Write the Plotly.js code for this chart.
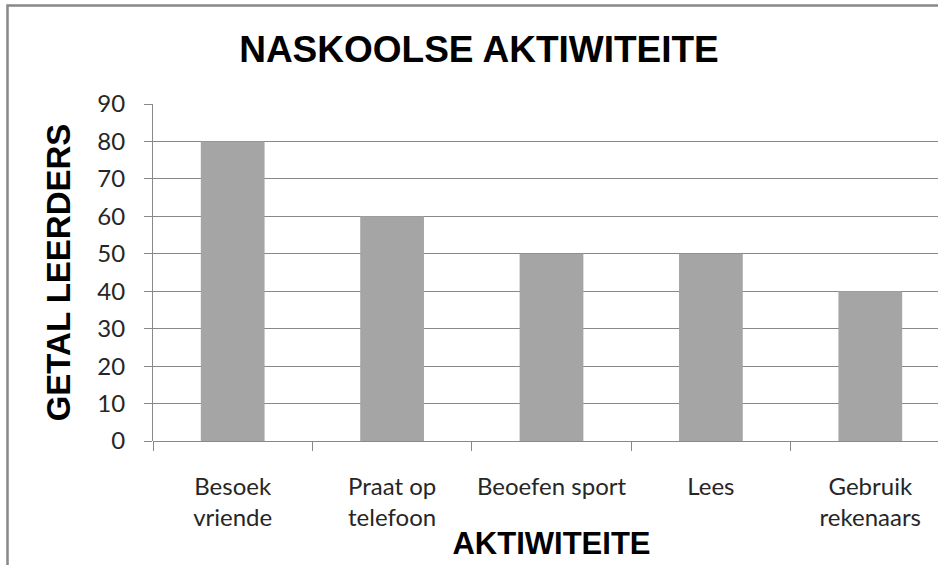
<!DOCTYPE html>
<html>
<head>
<meta charset="utf-8">
<script src="https://cdn.plot.ly/plotly-3.0.1.min.js"></script>
<style>
html, body { margin: 0; padding: 0; overflow: hidden; background: #fff; }
#chart { width: 958px; height: 565px; }
</style>
</head>
<body>
<div id="chart"></div>
<script>
const categories = ["Besoek<br>vriende", "Praat op<br>telefoon", "Beoefen sport", "Lees", "Gebruik<br>rekenaars"];
const learners = [80, 60, 50, 50, 40];
const yTicks = [0, 10, 20, 30, 40, 50, 60, 70, 80, 90];

const gridColor = "#888888";
const tickFont = { family: "Lato, 'Noto Sans', sans-serif", size: 24, color: "#262626" };
const boldFont = "'Liberation Sans', Arial, sans-serif";

const trace = {
  type: "bar",
  x: categories,
  y: learners,
  width: 0.4,
  marker: { color: "#a5a5a5", line: { width: 0 } },
  hoverinfo: "skip"
};

const layout = {
  width: 958,
  height: 565,
  margin: { l: 153, r: 8, t: 104, b: 124, pad: 0 },
  paper_bgcolor: "#ffffff",
  plot_bgcolor: "#ffffff",
  showlegend: false,
  bargap: 0.6,
  title: {
    text: "NASKOOLSE AKTIWITEITE",
    font: { family: boldFont, size: 37, color: "#000000", weight: "bold" },
    x: 0.5, xref: "container", xanchor: "center",
    y: 1 - 49 / 565, yref: "container", yanchor: "middle"
  },
  xaxis: {
    type: "category",
    range: [-0.5, 4.5],
    showgrid: false,
    showline: false,
    zeroline: false,
    ticks: "outside",
    tickson: "boundaries",
    ticklen: 9,
    tickwidth: 1,
    tickcolor: gridColor,
    tickfont: tickFont,
    ticklabelstandoff: 29,
    automargin: false,
    title: {
      text: "AKTIWITEITE",
      font: { family: boldFont, size: 31, color: "#000000", weight: "bold" },
      standoff: 2
    }
  },
  yaxis: {
    range: [0, 90],
    tickvals: yTicks,
    ticktext: yTicks.map(String),
    showgrid: true,
    gridcolor: gridColor,
    gridwidth: 1,
    showline: true,
    linecolor: gridColor,
    linewidth: 1,
    zeroline: true,
    zerolinecolor: gridColor,
    zerolinewidth: 1,
    ticks: "outside",
    ticklen: 8,
    tickwidth: 1,
    tickcolor: gridColor,
    tickfont: tickFont,
    ticklabelstandoff: 14,
    automargin: false,
    title: {
      text: "GETAL LEERDERS",
      font: { family: boldFont, size: 33, color: "#000000", weight: "bold" },
      standoff: 16
    }
  },
  shapes: [{
    type: "rect",
    xref: "paper", yref: "paper",
    x0: (7.5 - 153) / 797, x1: (952 - 153) / 797,
    y0: (441 - 600) / 337, y1: (441 - 5.5) / 337,
    line: { color: "#888888", width: 2.5 },
    fillcolor: "rgba(0,0,0,0)",
    layer: "below"
  }]
};

Plotly.newPlot("chart", [trace], layout, { staticPlot: true, displayModeBar: false });
</script>
</body>
</html>
